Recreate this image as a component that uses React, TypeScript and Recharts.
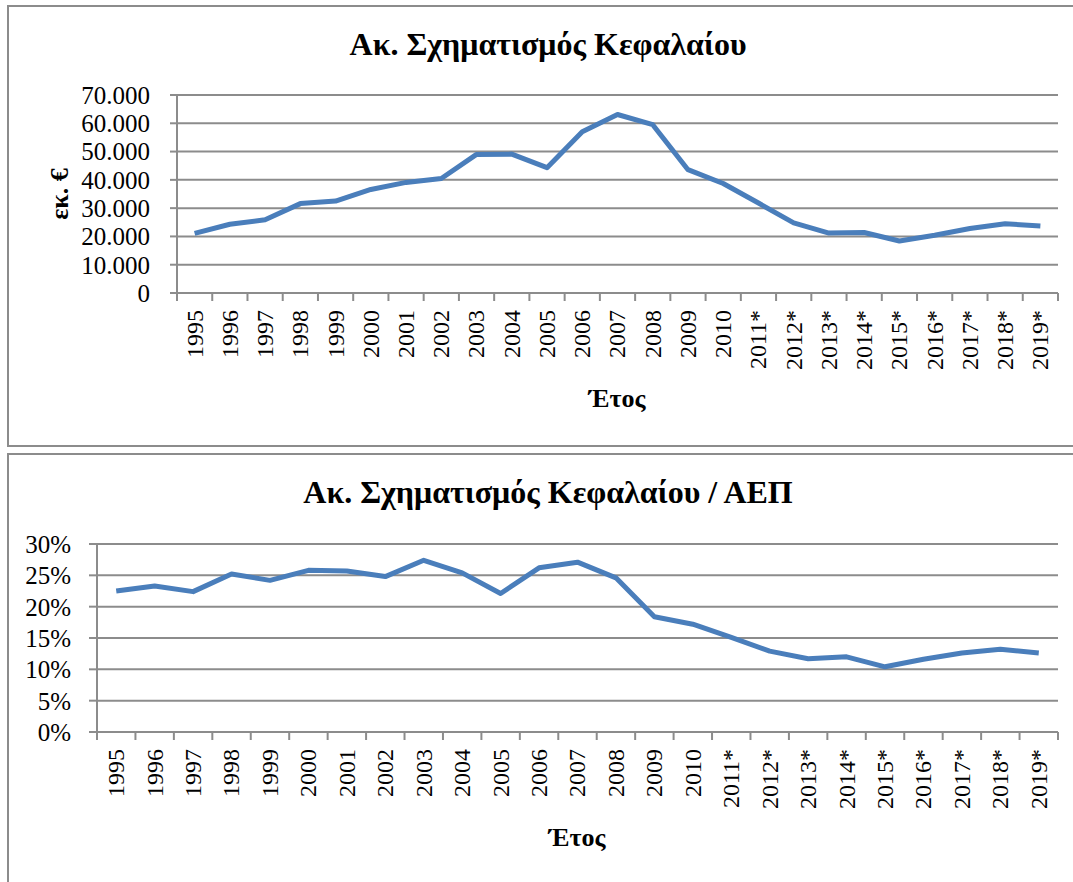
import { LineChart, Line, XAxis, YAxis, CartesianGrid } from 'recharts';

// years on the x axis (starred = estimates)
const years = [
  '1995', '1996', '1997', '1998', '1999', '2000', '2001', '2002', '2003', '2004',
  '2005', '2006', '2007', '2008', '2009', '2010', '2011*', '2012*', '2013*', '2014*',
  '2015*', '2016*', '2017*', '2018*', '2019*',
];

// gross fixed capital formation, million €
const capitalValues = [
  21100, 24300, 25900, 31600, 32500, 36600, 39100, 40500, 49000, 49100,
  44300, 57000, 63100, 59500, 43600, 38700, 31800, 24800, 21200, 21400,
  18400, 20400, 22800, 24500, 23700,
];

// gross fixed capital formation as % of GDP
const ratioValues = [
  22.5, 23.3, 22.4, 25.2, 24.2, 25.8, 25.7, 24.8, 27.4, 25.4,
  22.1, 26.2, 27.1, 24.6, 18.4, 17.2, 15.1, 12.9, 11.7, 12.0,
  10.4, 11.6, 12.6, 13.2, 12.6,
];

const capitalTicks = [0, 10000, 20000, 30000, 40000, 50000, 60000, 70000];
const ratioTicks = [0, 5, 10, 15, 20, 25, 30];

const capitalData = years.map((year, i) => ({ year, value: capitalValues[i] }));
const ratioData = years.map((year, i) => ({ year, value: ratioValues[i] }));

const FONT = '"Liberation Serif", "Times New Roman", serif';
const GRID = '#8c8c8c';
const LINE = '#4a7ebb';

const formatThousands = (v: number) => (v === 0 ? '0' : `${v / 1000}.000`);
const formatPercent = (v: number) => `${v}%`;

// rotated year label, with the tick marks drawn at category boundaries
const YearTick = ({ x, y, payload, index, band, gap }: any) => {
  const last = index === years.length - 1;
  return (
    <g>
      <line x1={x - band / 2} x2={x - band / 2} y1={y} y2={y + 8} stroke={GRID} strokeWidth={2} />
      {last && <line x1={x + band / 2} x2={x + band / 2} y1={y} y2={y + 8} stroke={GRID} strokeWidth={2} />}
      <text
        transform={`translate(${x},${y + gap}) rotate(-90)`}
        textAnchor="end"
        dy="0.33em"
        fontSize={24}
        fontFamily={FONT}
        fill="#000"
      >
        {payload.value}
      </text>
    </g>
  );
};

const boxStyle = (top: number, height: number): React.CSSProperties => ({
  position: 'absolute',
  left: 7,
  top,
  width: 1100,
  height,
  boxSizing: 'border-box',
  border: '2px solid #8c8c8c',
});

const textStyle = (
  left: number,
  top: number,
  width: number,
  size: number
): React.CSSProperties => ({
  position: 'absolute',
  left,
  top,
  width,
  textAlign: 'center',
  fontFamily: FONT,
  fontWeight: 'bold',
  fontSize: size,
  lineHeight: `${size}px`,
  whiteSpace: 'nowrap',
  color: '#000',
});

export default function App() {
  const topBand = (1058 - 177) / years.length;
  const bottomBand = (1058 - 97) / years.length;

  return (
    <div
      style={{
        position: 'absolute',
        left: 0,
        top: 0,
        width: 1073,
        height: 882,
        overflow: 'hidden',
        background: '#fff',
        fontFamily: FONT,
      }}
    >
      <div style={boxStyle(5, 442)} />
      <div style={boxStyle(453, 500)} />

      {/* top chart */}
      <div style={textStyle(248, 28, 600, 32)}>Ακ. Σχηματισμός Κεφαλαίου</div>
      <div
        style={{
          ...textStyle(10, 181, 100, 26),
          transform: 'rotate(-90deg)',
        }}
      >
        εκ. €
      </div>
      <div style={textStyle(517, 386, 200, 26)}>Έτος</div>

      <div style={{ position: 'absolute', left: 0, top: 0 }}>
        <LineChart
          width={1073}
          height={447}
          data={capitalData}
          margin={{ top: 95, right: 15, left: 77, bottom: 74 }}
        >
          <CartesianGrid horizontal vertical={false} stroke={GRID} strokeWidth={2} />
          <XAxis
            dataKey="year"
            height={80}
            interval={0}
            padding={{ left: topBand / 2, right: topBand / 2 }}
            tickSize={0}
            tickMargin={0}
            tickLine={false}
            axisLine={{ stroke: GRID, strokeWidth: 2 }}
            tick={(props: any) => <YearTick {...props} band={topBand} gap={17} />}
          />
          <YAxis
            width={100}
            domain={[0, 70000]}
            ticks={capitalTicks}
            interval={0}
            tickSize={7}
            tickMargin={20}
            tickFormatter={formatThousands}
            tickLine={{ stroke: GRID, strokeWidth: 2 }}
            axisLine={{ stroke: GRID, strokeWidth: 2 }}
            tick={{ fontSize: 25, fill: '#000', fontFamily: FONT }}
          />
          <Line
            type="linear"
            dataKey="value"
            stroke={LINE}
            strokeWidth={5}
            strokeLinejoin="round"
            dot={false}
            activeDot={false}
            isAnimationActive={false}
          />
        </LineChart>
      </div>

      {/* bottom chart */}
      <div style={textStyle(248, 476, 600, 32)}>Ακ. Σχηματισμός Κεφαλαίου / ΑΕΠ</div>
      <div style={textStyle(477, 825, 200, 26)}>Έτος</div>

      <div style={{ position: 'absolute', left: 0, top: 450 }}>
        <LineChart
          width={1073}
          height={432}
          data={ratioData}
          margin={{ top: 94, right: 15, left: 17, bottom: 70 }}
        >
          <CartesianGrid horizontal vertical={false} stroke={GRID} strokeWidth={2} />
          <XAxis
            dataKey="year"
            height={80}
            interval={0}
            padding={{ left: bottomBand / 2, right: bottomBand / 2 }}
            tickSize={0}
            tickMargin={0}
            tickLine={false}
            axisLine={{ stroke: GRID, strokeWidth: 2 }}
            tick={(props: any) => <YearTick {...props} band={bottomBand} gap={17} />}
          />
          <YAxis
            width={80}
            domain={[0, 30]}
            ticks={ratioTicks}
            interval={0}
            tickSize={8}
            tickMargin={18}
            tickFormatter={formatPercent}
            tickLine={{ stroke: GRID, strokeWidth: 2 }}
            axisLine={{ stroke: GRID, strokeWidth: 2 }}
            tick={{ fontSize: 25, fill: '#000', fontFamily: FONT }}
          />
          <Line
            type="linear"
            dataKey="value"
            stroke={LINE}
            strokeWidth={5}
            strokeLinejoin="round"
            dot={false}
            activeDot={false}
            isAnimationActive={false}
          />
        </LineChart>
      </div>
    </div>
  );
}
